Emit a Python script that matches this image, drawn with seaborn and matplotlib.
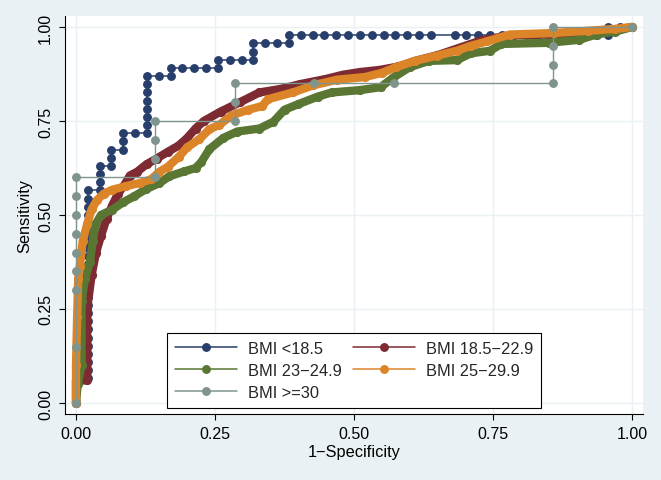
import numpy as np
import pandas as pd
import seaborn as sns
import matplotlib.pyplot as plt
from matplotlib.lines import Line2D

# ROC curves by BMI group (1-specificity vs sensitivity)

# BMI <18.5 : step curve, counts of false / true positives (47 neg, 46 pos)
blue_fp = [0, 0,
           1, 1, 1, 1, 1, 1, 1, 1, 1, 1, 1, 1, 1, 1, 1, 1, 1, 1, 1, 1, 1, 1, 1, 1,
           2, 2, 2, 2, 3, 3, 3, 4, 4, 4, 5,
           6, 6, 6, 6, 6, 6, 6, 6, 7, 8, 8, 9, 10, 11, 12, 12, 13, 14,
           15, 15, 15, 16, 17, 18, 18,
           19, 20, 21, 22, 23, 24, 25, 26, 27, 28, 29, 30,
           32, 33, 34, 35, 36, 37, 38, 39, 40, 41, 42, 43, 44, 45, 45, 46, 47]
blue_tp = [0, 3,
           3, 4, 5, 6, 7, 8, 9, 10, 11, 12, 13, 14, 15, 16, 17, 18, 19, 20, 21, 22, 23, 24, 25, 26,
           26, 27, 28, 29, 29, 30, 31, 31, 32, 33, 33,
           33, 34, 35, 36, 37, 38, 39, 40, 40, 40, 41, 41, 41, 41, 41, 42, 42, 42,
           42, 43, 44, 44, 44, 44, 45,
           45, 45, 45, 45, 45, 45, 45, 45, 45, 45, 45, 45,
           45, 45, 45, 45, 45, 45, 45, 45, 45, 45, 45, 45, 45, 45, 46, 46, 46]
blue_neg, blue_pos = 47, 46

# BMI 18.5-22.9
red_x = [0, 0, 0.02, 0.02, 0.028, 0.036, 0.045, 0.055, 0.065, 0.075, 0.087, 0.097,
         0.11, 0.127, 0.145, 0.165, 0.185, 0.2, 0.215, 0.23, 0.26, 0.295, 0.33,
         0.367, 0.403, 0.45, 0.48, 0.51, 0.547, 0.58, 0.61, 0.65, 0.69, 0.73,
         0.78, 0.85, 0.93, 0.96, 1.0]
red_y = [0, 0.06, 0.06, 0.25, 0.34, 0.40, 0.445, 0.49, 0.525, 0.555, 0.58, 0.605,
         0.615, 0.635, 0.65, 0.668, 0.685, 0.705, 0.73, 0.75, 0.775, 0.80, 0.826,
         0.835, 0.848, 0.862, 0.873, 0.88, 0.886, 0.895, 0.91, 0.925, 0.945, 0.965,
         0.978, 0.98, 0.985, 0.99, 1.0]

# BMI 23-24.9
green_x = [0, 0.003, 0.01, 0.01, 0.016, 0.025, 0.03, 0.035, 0.045, 0.065, 0.085,
           0.105, 0.125, 0.15, 0.168, 0.195, 0.215, 0.225, 0.24, 0.265, 0.29, 0.33,
           0.355, 0.375, 0.4, 0.435, 0.46, 0.51, 0.548, 0.57, 0.6, 0.635, 0.685,
           0.71, 0.745, 0.765, 0.85, 0.905, 0.935, 0.97, 1.0]
green_y = [0, 0.05, 0.1, 0.27, 0.33, 0.375, 0.43, 0.475, 0.5, 0.514, 0.534,
           0.55, 0.568, 0.585, 0.603, 0.616, 0.625, 0.64, 0.675, 0.705, 0.722, 0.73,
           0.748, 0.78, 0.795, 0.815, 0.826, 0.832, 0.84, 0.865, 0.893, 0.91, 0.912,
           0.93, 0.937, 0.955, 0.958, 0.966, 0.98, 0.988, 1.0]

# BMI 25-29.9
orange_x = [0, 0, 0.002, 0.004, 0.007, 0.012, 0.02, 0.028, 0.038, 0.05, 0.065, 0.09,
            0.115, 0.135, 0.15, 0.165, 0.185, 0.2, 0.222, 0.24, 0.258, 0.28, 0.31,
            0.335, 0.345, 0.39, 0.427, 0.47, 0.52, 0.55, 0.575, 0.61, 0.65, 0.685,
            0.71, 0.74, 0.78, 0.86, 0.92, 0.97, 1.0]
orange_y = [0, 0.10, 0.23, 0.33, 0.365, 0.43, 0.475, 0.515, 0.54, 0.557, 0.567, 0.577,
            0.585, 0.595, 0.615, 0.628, 0.655, 0.68, 0.702, 0.728, 0.74, 0.765, 0.78,
            0.79, 0.808, 0.826, 0.845, 0.86, 0.867, 0.878, 0.893, 0.91, 0.924, 0.937,
            0.95, 0.962, 0.98, 0.984, 0.99, 0.995, 1.0]

# BMI >=30 : step curve (7 neg, 20 pos)
gray_fp = [0, 0, 0, 0, 0, 0, 0, 0, 0, 1, 1, 1, 1, 2, 2, 2, 3, 4, 6, 6, 6, 6, 7]
gray_tp = [0, 3, 6, 7, 8, 9, 10, 11, 12, 12, 13, 14, 15, 15, 16, 17, 17, 17, 17, 18, 19, 20, 20]
gray_neg, gray_pos = 7, 20

labels = ['BMI <18.5', 'BMI 18.5\u221222.9', 'BMI 23\u221224.9', 'BMI 25\u221229.9', 'BMI >=30']
colors = ['#283f6b', '#7d2a32', '#5a7633', '#dc8528', '#7f948d']
ticks = [0, 0.25, 0.5, 0.75, 1.0]
tick_labels = ['0.00', '0.25', '0.50', '0.75', '1.00']

bg = '#eaf1f4'
sns.set_theme(style='white')
plt.rcParams['font.family'] = ['Liberation Sans', 'DejaVu Sans']

fig = plt.figure(figsize=(6.61, 4.81), dpi=100, facecolor=bg)
ax = fig.add_axes([65 / 661, 66 / 481, 578 / 661, 398 / 481])
ax.set_facecolor('white')

# step curve drawn as points joined by thin line
sns.lineplot(x=np.array(blue_fp) / blue_neg, y=np.array(blue_tp) / blue_pos, ax=ax,
             sort=False, estimator=None, color=colors[0], lw=1.1,
             marker='o', markersize=6.4, markeredgewidth=0, zorder=3)

# dense curves: markers overlap into a thick band
for xs, ys, c, z in [(red_x, red_y, colors[1], 4), (green_x, green_y, colors[2], 5),
                     (orange_x, orange_y, colors[3], 6)]:
    sns.lineplot(x=xs, y=ys, ax=ax, sort=False, estimator=None, color=c, lw=6.0,
                 marker='o', markersize=6.6, markeredgewidth=0, zorder=z,
                 solid_capstyle='round', solid_joinstyle='round')

sns.lineplot(x=np.array(gray_fp) / gray_neg, y=np.array(gray_tp) / gray_pos, ax=ax,
             sort=False, estimator=None, color=colors[4], lw=1.0,
             marker='o', markersize=6.4, markeredgewidth=0, zorder=7)

ax.set_xlim(-0.0198, 1.0198)
ax.set_ylim(-0.0293, 1.0293)
ax.set_xticks(ticks)
ax.set_xticklabels(tick_labels)
ax.set_yticks(ticks)
ax.set_yticklabels(tick_labels, rotation=90, va='center')
ax.grid(True, color=bg, lw=1.0, zorder=0)
ax.set_axisbelow(True)
for s in ['top', 'right']:
    ax.spines[s].set_visible(False)
for s in ['left', 'bottom']:
    ax.spines[s].set_color('black')
    ax.spines[s].set_linewidth(0.8)
ax.tick_params(axis='both', direction='out', length=4.5, width=0.8, color='black',
               labelsize=11.5, labelcolor='black', pad=4, left=True, bottom=True)
ax.set_xlabel('1\u2212Specificity', fontsize=11.8, color='black', labelpad=2)
ax.set_ylabel('Sensitivity', fontsize=11.8, color='black', labelpad=4)

handles = [Line2D([], [], color=c, lw=1.1, marker='o', markersize=6.4, markeredgewidth=0)
           for c in colors]
order = [0, 2, 4, 1, 3]
leg = ax.legend([handles[i] for i in order], [labels[i] for i in order], ncol=2,
                loc='lower center', bbox_to_anchor=(0.5, 0.015), borderaxespad=0,
                frameon=True, fancybox=False, edgecolor='black', framealpha=1,
                fontsize=11.8, handlelength=3.8, handletextpad=0.65,
                columnspacing=0.67, labelspacing=0.42, borderpad=0.5)
leg.get_frame().set_linewidth(0.8)
leg.set_zorder(10)

fig.savefig('out.png', dpi=100, facecolor=bg)
